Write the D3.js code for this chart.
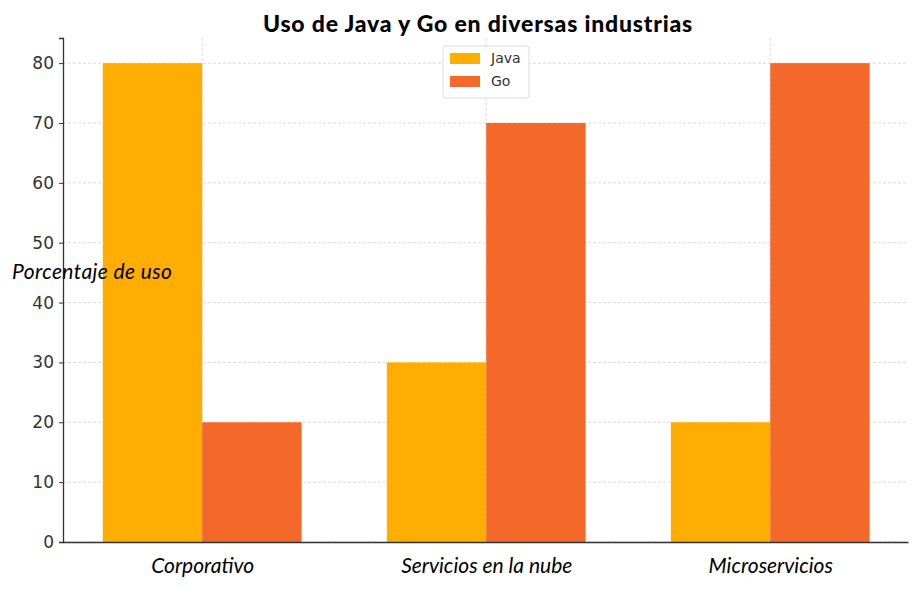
<html>
<script src="https://d3js.org/d3.v7.min.js"></script>
<style>
body{margin:0;background:#fff;}
svg{font-family:"DejaVu Sans",sans-serif;}
</style>
<div id="chart"></div>
<script>
const categories = ['Corporativo', 'Servicios en la nube', 'Microservicios'];
const java = [80, 30, 20];
const go = [20, 70, 80];
const yTicks = [0, 10, 20, 30, 40, 50, 60, 70, 80];
const seriesNames = ['Java', 'Go'];
const colors = ['#ffae00', '#f4682a'];

const width = 918, height = 600;
const margin = {top: 38, left: 63, bottom: 58, right: 10};

const svg = d3.select('#chart').append('svg')
  .attr('width', width).attr('height', height);

const x = d3.scaleLinear().domain([-0.49, 2.485]).range([margin.left, width - margin.right]);
const y = d3.scaleLinear().domain([0, 84.2]).range([height - margin.bottom, margin.top]);
const barW = 0.35;

// grid
svg.append('g').selectAll('line.h')
  .data(yTicks).enter().append('line')
  .attr('x1', margin.left).attr('x2', width - margin.right)
  .attr('y1', d => y(d)).attr('y2', d => y(d))
  .attr('stroke', '#d0d0d0').attr('stroke-dasharray', '3,2').attr('stroke-width', 0.8);
svg.append('g').selectAll('line.v')
  .data(categories).enter().append('line')
  .attr('x1', (d, i) => x(i)).attr('x2', (d, i) => x(i))
  .attr('y1', margin.top).attr('y2', height - margin.bottom)
  .attr('stroke', '#d0d0d0').attr('stroke-dasharray', '3,2').attr('stroke-width', 0.8);

// bars
[java, go].forEach((vals, s) => {
  svg.append('g').selectAll('rect')
    .data(vals).enter().append('rect')
    .attr('x', (d, i) => x(i + (s - 1) * barW))
    .attr('width', x(barW) - x(0))
    .attr('y', d => y(d))
    .attr('height', d => y(0) - y(d))
    .attr('fill', colors[s]);
});

// axes
const yAxis = svg.append('g')
  .attr('transform', `translate(${margin.left},0)`)
  .call(d3.axisLeft(y).tickValues(yTicks).tickSize(4).tickPadding(5));
yAxis.select('.domain').attr('stroke', '#333').attr('stroke-width', 1.3);
yAxis.selectAll('.tick line').attr('stroke', '#333');
yAxis.selectAll('text').attr('font-size', 17).attr('fill', '#333').attr('font-family', 'DejaVu Sans');

const xAxis = svg.append('g')
  .attr('transform', `translate(0,${height - margin.bottom})`)
  .call(d3.axisBottom(x).tickValues([0, 1, 2]).tickSize(0).tickPadding(16).tickFormat((d, i) => categories[i]));
xAxis.select('.domain').attr('stroke', '#333').attr('stroke-width', 1.3);
xAxis.selectAll('text').attr('font-size', 21).attr('fill', '#000')
  .attr('font-style', 'italic').attr('font-family', 'Lato');

// title and y label
svg.append('text').attr('x', 478).attr('y', 32).attr('text-anchor', 'middle')
  .attr('font-family', 'Lato').attr('font-weight', 900).attr('font-size', 23)
  .attr('letter-spacing', 0.8)
  .text('Uso de Java y Go en diversas industrias');
svg.append('text').attr('x', 12).attr('y', 279)
  .attr('font-family', 'Lato').attr('font-style', 'italic').attr('font-size', 21)
  .attr('letter-spacing', 0.4)
  .text('Porcentaje de uso');

// legend
const lg = svg.append('g').attr('transform', 'translate(443,46)');
lg.append('rect').attr('width', 86).attr('height', 52).attr('rx', 3)
  .attr('fill', '#fff').attr('fill-opacity', 0.85).attr('stroke', '#ddd');
seriesNames.forEach((n, i) => {
  lg.append('rect').attr('x', 7).attr('y', 7 + i * 23).attr('width', 30).attr('height', 11).attr('fill', colors[i]);
  lg.append('text').attr('x', 48).attr('y', 17 + i * 23).attr('font-size', 14).attr('fill', '#333').text(n);
});
</script>
</html>
